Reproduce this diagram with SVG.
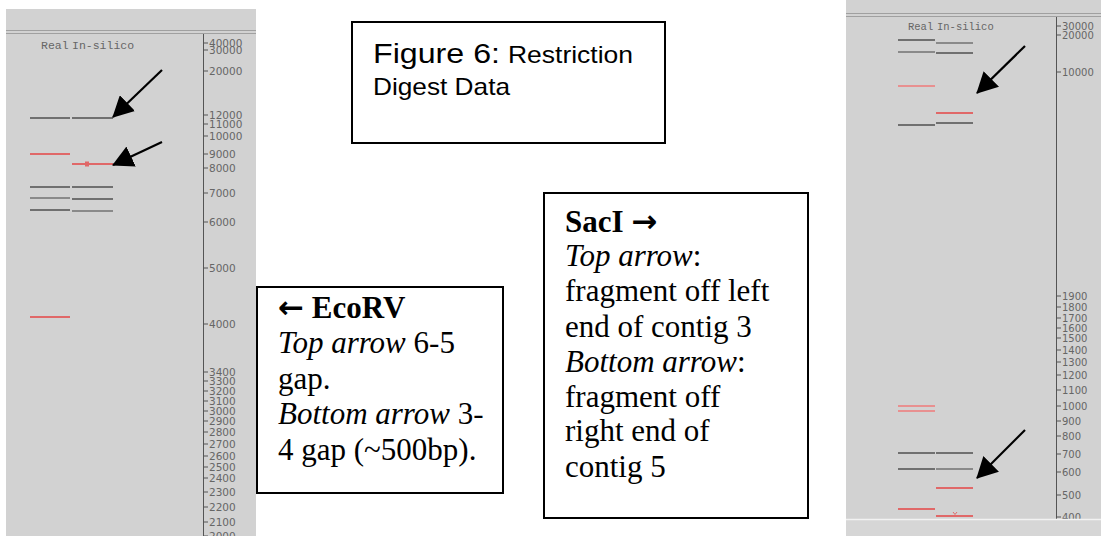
<svg xmlns="http://www.w3.org/2000/svg" width="1101" height="536" viewBox="0 0 1101 536">
<style>
.gel{fill:#d2d2d2}
.hdr{stroke:#a0a0a0;stroke-width:1}
.axis{stroke:#555;stroke-width:1}
.tick{stroke:#555;stroke-width:1}
.lbl{font-family:"DejaVu Sans",sans-serif;font-size:10.5px;fill:#666}
.lblr{font-family:"DejaVu Sans",sans-serif;font-size:10px;fill:#666}
.lane{font-family:"Liberation Mono",monospace;fill:#666}
.bg{stroke:#707070;stroke-width:2}
.bl{stroke:#8a8a8a;stroke-width:2}
.br{stroke:#e06868;stroke-width:2}
.bp{stroke:#e89090;stroke-width:2}
.box{fill:#fff;stroke:#000;stroke-width:2}
.serif{font-family:"Liberation Serif",serif;font-size:31px;fill:#000}
.sym{font-family:"DejaVu Sans",sans-serif;font-weight:bold;font-size:31px}
.sans{font-family:"Liberation Sans",sans-serif;fill:#000}
.arr{stroke:#000;stroke-width:2.2;fill:none;marker-end:url(#ah)}
</style>
<defs>
<marker id="ah" markerUnits="userSpaceOnUse" markerWidth="21" markerHeight="22" refX="20" refY="11" orient="auto">
<path d="M0,0 L21,11 L0,22 z" fill="#000"/>
</marker>
</defs>
<rect width="1101" height="536" fill="#fff"/>

<g id="gel-ecorv">
<rect class="gel" x="6" y="9" width="250" height="527"/>
<line class="hdr" x1="6" y1="30.5" x2="256" y2="30.5"/>
<line class="hdr" x1="6" y1="33.5" x2="256" y2="33.5"/>
<text class="lane" font-size="11.5" y="49"><tspan x="41">Real</tspan><tspan x="72">In-silico</tspan></text>
<line class="axis" x1="203.5" y1="34" x2="203.5" y2="536"/>
<g class="tick">
<line x1="203" y1="43" x2="208" y2="43"/><line x1="203" y1="50" x2="208" y2="50"/><line x1="203" y1="71" x2="208" y2="71"/>
<line x1="203" y1="115" x2="208" y2="115"/><line x1="203" y1="124" x2="208" y2="124"/><line x1="203" y1="136" x2="208" y2="136"/>
<line x1="203" y1="154" x2="208" y2="154"/><line x1="203" y1="168" x2="208" y2="168"/><line x1="203" y1="193" x2="208" y2="193"/>
<line x1="203" y1="222" x2="208" y2="222"/><line x1="203" y1="268" x2="208" y2="268"/><line x1="203" y1="324" x2="208" y2="324"/>
<line x1="203" y1="372" x2="208" y2="372"/><line x1="203" y1="381" x2="208" y2="381"/><line x1="203" y1="391" x2="208" y2="391"/>
<line x1="203" y1="401" x2="208" y2="401"/><line x1="203" y1="411" x2="208" y2="411"/><line x1="203" y1="421" x2="208" y2="421"/>
<line x1="203" y1="432" x2="208" y2="432"/><line x1="203" y1="444" x2="208" y2="444"/><line x1="203" y1="456" x2="208" y2="456"/>
<line x1="203" y1="467" x2="208" y2="467"/><line x1="203" y1="478" x2="208" y2="478"/><line x1="203" y1="492" x2="208" y2="492"/>
<line x1="203" y1="507" x2="208" y2="507"/><line x1="203" y1="522" x2="208" y2="522"/><line x1="203" y1="536" x2="208" y2="536"/>
</g>
<g class="lbl">
<text x="209" y="47">40000</text><text x="209" y="54">30000</text><text x="209" y="75">20000</text>
<text x="209" y="119">12000</text><text x="209" y="128">11000</text><text x="209" y="140">10000</text>
<text x="209" y="158">9000</text><text x="209" y="172">8000</text><text x="209" y="197">7000</text>
<text x="209" y="226">6000</text><text x="209" y="272">5000</text><text x="209" y="328">4000</text>
<text x="209" y="376">3400</text><text x="209" y="385">3300</text><text x="209" y="395">3200</text>
<text x="209" y="405">3100</text><text x="209" y="415">3000</text><text x="209" y="425">2900</text>
<text x="209" y="436">2800</text><text x="209" y="448">2700</text><text x="209" y="460">2600</text>
<text x="209" y="471">2500</text><text x="209" y="482">2400</text><text x="209" y="496">2300</text>
<text x="209" y="511">2200</text><text x="209" y="526">2100</text><text x="209" y="540">2000</text>
</g>
<line class="bg" x1="30" y1="118" x2="70" y2="118"/><line class="bg" x1="72" y1="118" x2="113" y2="118"/>
<line class="br" x1="30" y1="154" x2="70" y2="154"/><line class="br" x1="72" y1="164" x2="113" y2="164"/>
<rect x="85" y="161.5" width="4" height="5" fill="#e06868"/>
<line class="bg" x1="30" y1="187" x2="70" y2="187"/><line class="bg" x1="72" y1="187" x2="113" y2="187"/>
<line class="bl" x1="30" y1="198" x2="70" y2="198"/><line class="bg" x1="72" y1="199" x2="113" y2="199"/>
<line class="bg" x1="30" y1="210" x2="70" y2="210"/><line class="bl" x1="72" y1="211" x2="113" y2="211"/>
<line class="br" x1="30" y1="317" x2="70" y2="317"/>
</g>

<g id="gel-saci">
<rect class="gel" x="846" y="0" width="255" height="536"/>
<line class="hdr" x1="846" y1="13.5" x2="1101" y2="13.5"/>
<line class="hdr" x1="846" y1="16.5" x2="1101" y2="16.5"/>
<text class="lane" font-size="10.5" y="30"><tspan x="908">Real</tspan><tspan x="937">In-silico</tspan></text>
<line class="axis" x1="1056.5" y1="17" x2="1056.5" y2="519"/>
<g class="tick">
<line x1="1056" y1="26" x2="1061" y2="26"/><line x1="1056" y1="35" x2="1061" y2="35"/><line x1="1056" y1="72" x2="1061" y2="72"/>
<line x1="1056" y1="296" x2="1061" y2="296"/><line x1="1056" y1="307" x2="1061" y2="307"/><line x1="1056" y1="318" x2="1061" y2="318"/>
<line x1="1056" y1="328" x2="1061" y2="328"/><line x1="1056" y1="338" x2="1061" y2="338"/><line x1="1056" y1="350" x2="1061" y2="350"/>
<line x1="1056" y1="362" x2="1061" y2="362"/><line x1="1056" y1="375" x2="1061" y2="375"/><line x1="1056" y1="390" x2="1061" y2="390"/>
<line x1="1056" y1="406" x2="1061" y2="406"/><line x1="1056" y1="421" x2="1061" y2="421"/><line x1="1056" y1="436" x2="1061" y2="436"/>
<line x1="1056" y1="454" x2="1061" y2="454"/><line x1="1056" y1="472" x2="1061" y2="472"/><line x1="1056" y1="495" x2="1061" y2="495"/>
<line x1="1056" y1="517" x2="1061" y2="517"/>
</g>
<g class="lblr">
<text x="1062" y="30">30000</text><text x="1062" y="39">20000</text><text x="1062" y="76">10000</text>
<text x="1062" y="300">1900</text><text x="1062" y="311">1800</text><text x="1062" y="322">1700</text>
<text x="1062" y="332">1600</text><text x="1062" y="342">1500</text><text x="1062" y="354">1400</text>
<text x="1062" y="366">1300</text><text x="1062" y="379">1200</text><text x="1062" y="394">1100</text>
<text x="1062" y="410">1000</text><text x="1062" y="425">900</text><text x="1062" y="440">800</text>
<text x="1062" y="458">700</text><text x="1062" y="476">600</text><text x="1062" y="499">500</text>
<text x="1062" y="521">400</text>
</g>
<rect x="846" y="519" width="255" height="17" fill="#d6d6d6"/>
<line x1="846" y1="519.5" x2="1101" y2="519.5" stroke="#f2f2f2" stroke-width="1.5"/>
<line class="bg" x1="898" y1="40" x2="935" y2="40"/><line class="bl" x1="936" y1="43" x2="973" y2="43"/>
<line class="bl" x1="898" y1="52" x2="935" y2="52"/><line class="bg" x1="936" y1="53" x2="973" y2="53"/>
<line class="bp" x1="898" y1="86" x2="935" y2="86"/>
<line class="br" x1="936" y1="113" x2="973" y2="113"/>
<line class="bg" x1="898" y1="125" x2="935" y2="125"/><line class="bg" x1="936" y1="123" x2="973" y2="123"/>
<line class="bp" x1="898" y1="406" x2="935" y2="406"/><line class="bp" x1="898" y1="411" x2="935" y2="411"/>
<line class="bg" x1="898" y1="453" x2="935" y2="453"/><line class="bg" x1="936" y1="453" x2="973" y2="453"/>
<line class="bg" x1="898" y1="469" x2="935" y2="469"/><line class="bl" x1="936" y1="469" x2="973" y2="469"/>
<line class="br" x1="936" y1="488" x2="973" y2="488"/>
<line class="br" x1="898" y1="509" x2="935" y2="509"/>
<line class="br" x1="936" y1="516" x2="973" y2="516"/>
<path d="M953,512 L955,514.5 L957,512" stroke="#e06868" stroke-width="1" fill="none"/>
</g>

<g id="caption">
<rect class="box" x="352" y="22" width="313" height="121"/>
<text class="sans" x="373" y="63" font-size="27" textLength="127" lengthAdjust="spacingAndGlyphs">Figure 6:</text>
<text class="sans" x="508" y="63" font-size="24" textLength="125" lengthAdjust="spacingAndGlyphs">Restriction</text>
<text class="sans" x="373" y="95" font-size="24" textLength="137" lengthAdjust="spacingAndGlyphs">Digest Data</text>
</g>

<g id="note-ecorv">
<rect class="box" x="257" y="287" width="246" height="206"/>
<text class="serif" x="278" y="318"><tspan class="sym">←</tspan> <tspan font-weight="bold">EcoRV</tspan></text>
<text class="serif" x="278" y="353"><tspan font-style="italic">Top arrow</tspan> 6-5</text>
<text class="serif" x="278" y="389">gap.</text>
<text class="serif" x="278" y="424"><tspan font-style="italic">Bottom arrow</tspan> 3-</text>
<text class="serif" x="278" y="460">4 gap (~500bp).</text>
</g>

<g id="note-saci">
<rect class="box" x="544" y="193" width="264" height="325"/>
<text class="serif" x="565" y="232"><tspan font-weight="bold">SacI</tspan> <tspan class="sym">→</tspan></text>
<text class="serif" x="565" y="266"><tspan font-style="italic">Top arrow</tspan>:</text>
<text class="serif" x="565" y="301">fragment off left</text>
<text class="serif" x="565" y="337">end of contig 3</text>
<text class="serif" x="565" y="372"><tspan font-style="italic">Bottom arrow</tspan>:</text>
<text class="serif" x="565" y="407">fragment off</text>
<text class="serif" x="565" y="441">right end of</text>
<text class="serif" x="565" y="477">contig 5</text>
</g>

<g id="connectors">
<line class="arr" x1="162" y1="70" x2="113" y2="117"/>
<line class="arr" x1="162" y1="142" x2="113" y2="165"/>
<line class="arr" x1="1025" y1="46" x2="977" y2="93"/>
<line class="arr" x1="1025" y1="430" x2="977" y2="478"/>
</g>
</svg>
